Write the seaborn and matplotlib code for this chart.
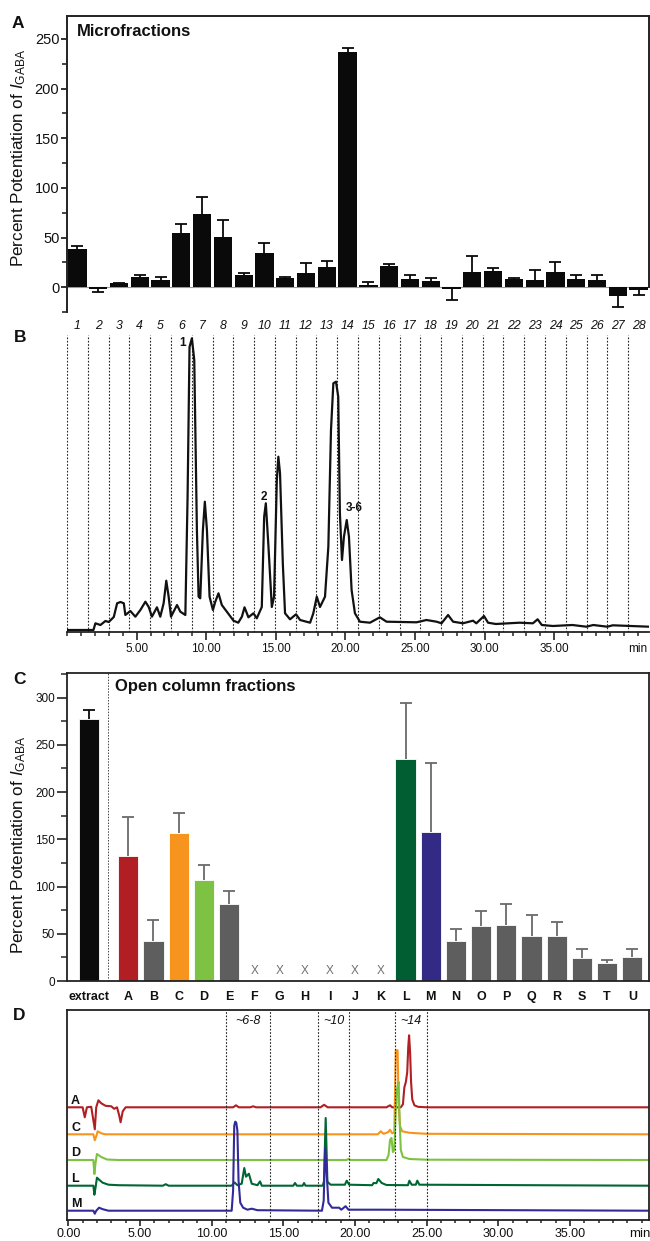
import numpy as np
import pandas as pd
import matplotlib
matplotlib.use("Agg")
import matplotlib.pyplot as plt
import matplotlib.transforms as mtransforms
from matplotlib.ticker import MultipleLocator, FixedLocator
import seaborn as sns

sns.set_style("ticks")
plt.rcParams["font.family"] = ["Liberation Sans", "DejaVu Sans"]
plt.rcParams["mathtext.fontset"] = "custom"
plt.rcParams["mathtext.rm"] = "Liberation Sans"
plt.rcParams["mathtext.it"] = "Liberation Sans:italic"
plt.rcParams["mathtext.bf"] = "Liberation Sans:bold"
plt.rcParams["axes.unicode_minus"] = False

# ---- A: microfractions, % potentiation of I_GABA (mean, sem) ----
micro_labels = [str(i) for i in range(1, 29)]
micro_mean = [38, -2, 4, 10, 7, 55, 74, 51, 12, 34,
              9, 14, 20, 237, 2.5, 21, 8.5, 6, -2, 15,
              16, 8.5, 7, 15, 8, 7.5, -9, -2.5]
micro_sem = [3, 3, 0.5, 2, 3, 9, 17, 17, 2, 10,
             1, 10.5, 6, 4, 2.5, 2, 4, 3, 10.5, 16,
             3.5, 1, 10.5, 10, 4.5, 5, 10.5, 5]

# ---- B: HPLC trace of the extract (min, signal) ----
hplc_time = [0.0, 1.9, 2.04, 2.4, 2.76, 3.0, 3.36, 3.6, 3.84, 4.08,
             4.19, 4.55, 4.91, 5.27, 5.63, 5.87, 6.1, 6.46, 6.7, 6.94,
             7.13, 7.3, 7.47, 7.9, 8.14, 8.5, 8.66, 8.8, 8.97, 9.14,
             9.33, 9.45, 9.57, 9.76, 9.9, 10.05, 10.24, 10.48, 10.65, 10.88,
             11.12, 11.48, 11.96, 12.3, 12.56, 12.75, 13.03, 13.39, 13.63, 13.99,
             14.16, 14.28, 14.47, 14.71, 14.87, 15.07, 15.18, 15.3, 15.5, 15.66,
             16.02, 16.45, 16.74, 17.46, 17.69, 17.94, 18.17, 18.53, 18.77, 18.96,
             19.13, 19.32, 19.48, 19.6, 19.75, 19.89, 20.09, 20.25, 20.44, 20.68,
             21.04, 21.76, 22.47, 22.95, 25.1, 25.82, 26.54, 26.9, 27.37, 27.73,
             28.44, 29.16, 29.4, 29.95, 30.24, 30.8, 32.5, 33.46, 33.8, 34.1,
             34.9, 36.3, 37.3, 37.8, 38.8, 39.2, 41.8]
hplc_signal = [1, 1, 7.7, 6, 10, 9, 14, 27.7, 29, 27.7,
               16, 20, 14.3, 21, 29.3, 24, 14.3, 23.7, 14.3, 27.7,
               50.3, 34.3, 14.3, 26, 19.3, 16, 134, 284, 292.7, 271,
               101, 34.3, 32.7, 101, 129.3, 101, 34.3, 21, 29.3, 37.7,
               26, 19.3, 10.3, 8.3, 14.3, 23.7, 13.7, 17.7, 12.7, 24,
               114.3, 127.7, 84.3, 24, 34.3, 151, 174.3, 157.7, 67.7, 17.7,
               11.7, 16.7, 11, 8.3, 17.7, 34.3, 24, 34.3, 84.3, 201,
               247.7, 249.3, 234.3, 117.7, 71, 94.3, 111, 94.3, 41, 17.7,
               9.3, 8.3, 13.7, 9.3, 8.7, 11, 9.3, 7.7, 16, 9.3,
               7.7, 10.3, 7.7, 15, 8.3, 7, 8.3, 7.7, 11.7, 6,
               5, 6, 4.3, 6, 4.3, 5.7, 4.3]
peak_names = ["1", "2", "3-6"]
peak_time = [8.3, 14.15, 20.6]
peak_signal = [288, 134, 123]

# ---- C: open column fractions (mean, sem); F-K not tested ----
oc_labels = ["extract", "A", "B", "C", "D", "E", "F", "G", "H", "I", "J",
             "K", "L", "M", "N", "O", "P", "Q", "R", "S", "T", "U"]
oc_mean = [277, 132, 42, 157, 107, 82, np.nan, np.nan, np.nan, np.nan, np.nan,
           np.nan, 235, 158, 42, 58, 59, 48, 48, 24, 19, 25]
oc_sem = [10, 42, 23, 21, 16, 13, np.nan, np.nan, np.nan, np.nan, np.nan,
          np.nan, 59, 73, 13, 16, 23, 22, 14, 9.5, 3.5, 9]
oc_palette = {"extract": "#0b0b0b", "A": "#b11f24", "C": "#f7941d",
              "D": "#7dc242", "L": "#005e32", "M": "#332a86"}
oc_gray = "#5e5e5e"

# ---- D: HPLC traces of active open column fractions ----
trace_names = ["A", "C", "D", "L", "M"]
trace_a_time = [0, 1.0, 1.15, 1.3, 1.6, 1.85, 1.95, 2.1, 2.3, 2.6,
                3.0, 3.2, 3.4, 3.55, 3.65, 3.8, 4.0, 11.5, 11.7, 11.9,
                12.7, 12.9, 13.1, 17.6, 17.85, 18.1, 22.2, 22.45, 22.6, 23.2,
                23.35, 23.45, 23.55, 23.65, 23.72, 23.78, 23.85, 23.92, 24.0, 24.15,
                24.4, 25.0, 40.5]
trace_a_signal = [0, 0, -10, 0, 0.5, -22, 0, 7, 4, 1.5,
                  1, -1.5, 0, -8, -15, -4, 0, 0, 2, 0,
                  0, 1, 0, 0, 2.5, 0, 0, 2, 0, 0,
                  3, 20, 25, 35, 60, 72, 55, 25, 8, 2,
                  0.5, 0, 0]
trace_c_time = [0, 1.75, 1.85, 1.95, 2.05, 2.3, 2.6, 21.6, 21.8, 22.0,
                22.3, 22.45, 22.6, 22.75, 22.85, 22.98, 23.05, 23.15, 23.3, 23.8,
                25.0, 40.5]
trace_c_signal = [0, 0, -6, -2, 3, 1, 0, 0, 3, 0.5,
                  2, 4.5, 1, 2, 84, 84, 30, 8, 3, 1.5,
                  0.5, 0]
trace_d_time = [0, 1.75, 1.82, 1.9, 2.0, 2.3, 2.7, 3.5, 19.4, 19.55,
                19.7, 22.2, 22.35, 22.45, 22.55, 22.65, 22.75, 22.85, 22.95, 23.05,
                23.12, 23.2, 23.35, 23.8, 25.0, 40.5]
trace_d_signal = [0, 0, -14, -3, 6, 3, 0.5, 0, 0, 1,
                  0, 0, 5, 20, 22, 8, 10, 50, 72, 78,
                  40, 10, 3, 1, 0.3, 0]
trace_l_time = [0, 1.75, 1.82, 1.9, 2.0, 2.15, 2.4, 2.8, 3.5, 6.6,
                6.8, 7.0, 11.4, 11.6, 11.8, 12.1, 12.28, 12.4, 12.6, 12.8,
                13.2, 13.38, 13.5, 15.7, 15.82, 15.95, 16.35, 16.45, 16.55, 17.75,
                17.84, 17.96, 18.08, 18.3, 19.3, 19.43, 19.6, 21.2, 21.3, 21.5,
                21.63, 21.87, 22.2, 23.7, 23.8, 23.96, 24.25, 24.35, 24.5, 40.5]
trace_l_signal = [0, 0, -9, -2, 8, 6, 3, 1, 0.5, 0,
                  1.5, 0, 0, 3.3, 0.5, 2, 17.7, 9, 12, 2,
                  0.5, 4.3, 0, 0, 2.7, 0, 0, 2.7, 0, 0,
                  4.3, 67.7, 4, 1, 1, 5, 1, 0.5, 2.7, 2.5,
                  6.7, 2.7, 0.7, 0.5, 5, 1, 1, 5, 1, 0]
trace_m_time = [0, 1.75, 1.85, 1.95, 2.15, 2.4, 2.8, 11.4, 11.5, 11.58,
                11.65, 11.72, 11.8, 11.88, 12.0, 12.2, 12.5, 12.8, 13.2, 17.7,
                17.82, 17.92, 18.02, 18.15, 18.4, 18.9, 19.05, 19.35, 19.55, 21.8,
                40.5]
trace_m_signal = [0, 0, -3, 0, 3, 1.5, 0, 0, 20, 85,
                  89, 88, 80, 30, 8, 3, 1, 2, 0.5, 0,
                  10, 62, 40, 8, 3, 3, 1, 4.5, 1, 1,
                  0]
region_names = ["~6-8", "~10", "~14"]
region_bounds = [(11.0, 14.05), (17.4, 19.6), (22.8, 25.05)]

# ---------------------------------------------------------------
W, H = 650, 1241
fig = plt.figure(figsize=(W / 100, H / 100), dpi=100)
INK = "#111111"


def px_axes(left, top, right, bottom):
    return fig.add_axes([left / W, 1 - bottom / H, (right - left) / W, (bottom - top) / H])


def one_sided_errors(ax, x, mean, sem, color, cap):
    mean = np.asarray(mean, float)
    sem = np.asarray(sem, float)
    sign = np.where(mean < 0, -1, 1)
    tip = mean + sign * sem
    ax.vlines(x, mean, tip, color=color, lw=1.3, zorder=3)
    ax.plot(x, tip, ls="none", marker="_", ms=cap, mew=1.3, color=color, zorder=3)


ylab = r"Percent Potentiation of $\mathit{I}_{\mathrm{GABA}}$"
dots = (0, (1.5, 1.5))

# ---- panel A ----
axa = px_axes(67, 16, 649, 312)
sns.barplot(x=micro_labels, y=micro_mean, order=micro_labels, color="#0a0a0a",
            saturation=1, width=0.88, errorbar=None, linewidth=0, ax=axa)
one_sided_errors(axa, np.arange(len(micro_labels)), micro_mean, micro_sem, "#0a0a0a", 8)
axa.axhline(0, color="#9a9a9a", lw=0.8, zorder=0)
axa.set_xlim(-0.5, 27.5)
axa.set_ylim(-25, 273)
axa.set_xticks([])
axa.set_xlabel("")
axa.set_ylabel("")
axa.yaxis.set_major_locator(FixedLocator([0, 50, 100, 150, 200, 250]))
axa.yaxis.set_minor_locator(FixedLocator([-25, 25, 75, 125, 175, 225]))
axa.tick_params(axis="y", which="major", length=4, width=1.2, labelsize=10.5, pad=1.5, colors=INK)
axa.tick_params(axis="y", which="minor", length=3.5, width=1.2)
axa.spines["bottom"].set_visible(False)
for s in ["left", "top", "right"]:
    axa.spines[s].set_linewidth(1.4)
    axa.spines[s].set_color("#222222")
axa.spines["right"].set_bounds(0, 273)
axa.text(0.017, 0.948, "Microfractions", transform=axa.transAxes, fontsize=12,
         fontweight="bold", va="center", ha="left", color=INK)
fig.text(19 / W, 1 - 158 / H, ylab, rotation=90, ha="center", va="center", fontsize=12.3, color=INK)

# ---- panel B ----
axb = px_axes(67, 335, 649, 632)
t_end = 41.8
frac_w = t_end / len(micro_labels)
for k in range(len(micro_labels)):
    axb.axvline(k * frac_w, color="#222222", lw=0.8, ls=dots, zorder=0)
sns.lineplot(x=hplc_time, y=hplc_signal, color=INK, lw=1.6, estimator=None, ax=axb)
axb.set_xlim(0, t_end)
axb.set_ylim(-1, 296)
axb.set_ylabel("")
axb.set_yticks([])
for s in ["left", "top", "right"]:
    axb.spines[s].set_visible(False)
axb.spines["bottom"].set_linewidth(1.3)
axb.spines["bottom"].set_color("#222222")
axb.set_xticks([5, 10, 15, 20, 25, 30, 35])
axb.set_xticklabels([f"{v:.2f}" for v in [5, 10, 15, 20, 25, 30, 35]])
axb.xaxis.set_minor_locator(MultipleLocator(1))
axb.tick_params(axis="x", which="major", length=6, width=1.1, labelsize=8.5, pad=2, colors=INK)
axb.tick_params(axis="x", which="minor", length=3, width=1.1)
axb.text(0.981, -0.057, "min", transform=axb.transAxes, fontsize=8.5, ha="center", va="center", color=INK)
blend_b = mtransforms.blended_transform_factory(axb.transData, axb.transAxes)
for k, lab in enumerate(micro_labels):
    axb.text((k + 0.5) * frac_w, 1.03, lab, transform=blend_b, fontsize=8.8,
             style="italic", ha="center", va="center", color=INK)
for name, t, s in zip(peak_names, peak_time, peak_signal):
    axb.text(t, s, name, fontsize=8.5, fontweight="bold", ha="center", va="center", color=INK)

# ---- panel C ----
axc = px_axes(67, 673, 649, 981)
oc_pos = [-1.57] + list(range(len(oc_labels) - 1))
dfc = pd.DataFrame({"pos": oc_pos, "label": oc_labels, "mean": oc_mean, "sem": oc_sem})
pal = {lab: oc_palette.get(lab, oc_gray) for lab in oc_labels}
tested = dfc.dropna()
sns.barplot(data=tested, x="pos", y="mean", hue="label", palette=pal, native_scale=True,
            dodge=False, legend=False, width=0.8, errorbar=None, saturation=1,
            edgecolor="white", linewidth=0.6, ax=axc)
err_col = ["#0b0b0b" if lab == "extract" else "#6a6a6a" for lab in tested["label"]]
for x, m, e, c in zip(tested["pos"], tested["mean"], tested["sem"], err_col):
    one_sided_errors(axc, [x], [m], [e], c, 8)
untested = dfc[dfc["mean"].isna()]
for x in untested["pos"]:
    axc.text(x, 4, "X", ha="center", va="bottom", fontsize=8.5, color="#707070")
axc.axvline(-0.79, color="#444444", lw=0.7, ls=dots, zorder=0)
axc.set_xlim(-2.43, 20.66)
axc.set_ylim(0, 326)
axc.set_xlabel("")
axc.set_ylabel("")
axc.set_xticks(oc_pos)
axc.set_xticklabels(oc_labels, fontweight="bold")
axc.tick_params(axis="x", length=0, labelsize=9, pad=7.5, colors=INK)
axc.yaxis.set_major_locator(MultipleLocator(50))
axc.yaxis.set_minor_locator(MultipleLocator(25))
axc.tick_params(axis="y", which="major", length=7, width=1.1, labelsize=8.5, pad=1.5, colors=INK)
axc.tick_params(axis="y", which="minor", length=4, width=1.1)
for s in ["left", "top", "right", "bottom"]:
    axc.spines[s].set_linewidth(1.3)
    axc.spines[s].set_color("#222222")
axc.text(0.0825, 0.955, "Open column fractions", transform=axc.transAxes, fontsize=12,
         fontweight="bold", ha="left", va="center", color=INK)
fig.text(19 / W, 1 - 845 / H, ylab, rotation=90, ha="center", va="center", fontsize=12.3, color=INK)

# ---- panel D ----
axd = px_axes(67, 1010, 649, 1220)
trace_time = [trace_a_time, trace_c_time, trace_d_time, trace_l_time, trace_m_time]
trace_signal = [trace_a_signal, trace_c_signal, trace_d_signal, trace_l_signal, trace_m_signal]
trace_colors = ["#b11f24", "#f7941d", "#7dc242", "#006633", "#33299a"]
trace_offset = [112.7, 85.7, 60, 34.3, 9.3]
for name, t, s, c, off in zip(trace_names, trace_time, trace_signal, trace_colors, trace_offset):
    sns.lineplot(x=t, y=np.asarray(s) + off, color=c, lw=1.5, estimator=None, sort=False, ax=axd)
    axd.text(0.2, off + 6.5, name, fontsize=9, fontweight="bold", ha="left", va="center", color=INK)
for (lo, hi), name in zip(region_bounds, region_names):
    axd.axvline(lo, color="#222222", lw=0.8, ls=dots)
    axd.axvline(hi, color="#222222", lw=0.8, ls=dots)
    axd.text((lo + hi) / 2, 199, name, fontsize=9, style="italic", ha="center", va="center", color=INK)
axd.set_xlim(-0.09, 40.52)
axd.set_ylim(0, 210)
axd.set_ylabel("")
axd.set_yticks([])
axd.set_xticks([0, 5, 10, 15, 20, 25, 30, 35])
axd.set_xticklabels([f"{v:.2f}" for v in [0, 5, 10, 15, 20, 25, 30, 35]])
axd.xaxis.set_minor_locator(MultipleLocator(1))
axd.tick_params(axis="x", which="major", length=4, width=1.1, labelsize=9, pad=2, colors=INK)
axd.tick_params(axis="x", which="minor", length=2.5, width=1.1)
for s in ["left", "top", "right", "bottom"]:
    axd.spines[s].set_linewidth(1.3)
    axd.spines[s].set_color("#222222")
axd.text(0.984, -0.067, "min", transform=axd.transAxes, fontsize=9.5, ha="center", va="center", color=INK)

# panel letters
for letter, (x, y) in zip("ABCD", [(18, 24), (20, 337), (19, 680), (19, 1015)]):
    fig.text(x / W, 1 - y / H, letter, fontsize=12.5, fontweight="bold", ha="center", va="center", color=INK)

fig.savefig("out.png", dpi=100)
plt.close(fig)
